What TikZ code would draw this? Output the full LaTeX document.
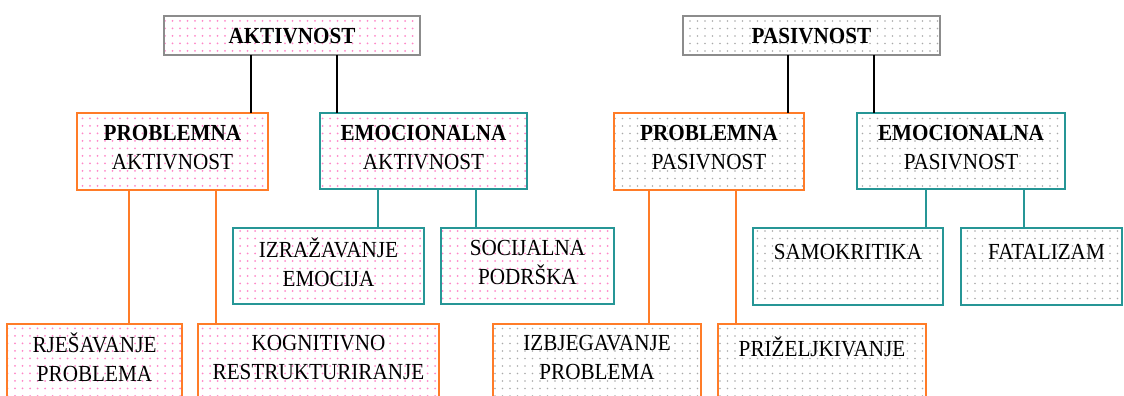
\documentclass[tikz,border=0pt]{standalone}
\usepackage{fontspec}
\setmainfont{Liberation Serif}[FakeStretch=0.92]
\usetikzlibrary{patterns.meta}
\definecolor{boxorange}{RGB}{255,124,40}
\definecolor{boxteal}{RGB}{38,150,150}
\definecolor{boxgray}{RGB}{140,140,140}
\definecolor{dotpink}{RGB}{255,135,200}
\definecolor{dotgray}{RGB}{170,170,170}
\tikzset{
  bx/.style={rectangle, inner sep=0pt, outer sep=0pt, line width=1.4pt, anchor=north west},
  pinkdots/.style={pattern={Dots[distance=7.5pt,radius=1pt]}, pattern color=dotpink},
  graydots/.style={pattern={Dots[distance=7.5pt,radius=0.95pt]}, pattern color=dotgray},
  obox/.style={bx, draw=boxorange},
  tbox/.style={bx, draw=boxteal},
  gbox/.style={bx, draw=boxgray},
  lbl/.style={align=center, inner sep=0pt, font=\fontsize{23}{29}\selectfont},
  blink/.style={draw=black, line width=1.1pt},
  olink/.style={draw=boxorange, line width=1.3pt},
  tlink/.style={draw=boxteal, line width=1.3pt}
}
\begin{document}
\begin{tikzpicture}[x=1pt,y=-1pt]
\useasboundingbox (0,0) rectangle (1124,396);
\clip (0,0) rectangle (1124,396);
% top level
\node[gbox,pinkdots,minimum width=256pt,minimum height=39pt] (akt) at (164,16) {};
\node[lbl] (aktt) at (292,36) {\textbf{AKTIVNOST}};
\node[gbox,graydots,minimum width=257pt,minimum height=39pt] (pas) at (683,16) {};
\node[lbl] (past) at (811.5,36) {\textbf{PASIVNOST}};
% second level
\node[obox,pinkdots,minimum width=191pt,minimum height=77pt] (pa) at (77,113) {};
\node[lbl] (pat) at (172.5,147.5) {\textbf{PROBLEMNA}\\AKTIVNOST};
\node[tbox,pinkdots,minimum width=207pt,minimum height=76pt] (ea) at (320,113) {};
\node[lbl] (eat) at (423.5,147.5) {\textbf{EMOCIONALNA}\\AKTIVNOST};
\node[obox,graydots,minimum width=190pt,minimum height=77pt] (pp) at (614,113) {};
\node[lbl] (ppt) at (709,147.5) {\textbf{PROBLEMNA}\\PASIVNOST};
\node[tbox,graydots,minimum width=208pt,minimum height=76pt] (ep) at (857,113) {};
\node[lbl] (ept) at (961,147.5) {\textbf{EMOCIONALNA}\\PASIVNOST};
% third level
\node[tbox,pinkdots,minimum width=191pt,minimum height=76pt] (ie) at (233,228) {};
\node[lbl] (iet) at (328.5,262) {IZRAŽAVANJE\\EMOCIJA};
\node[tbox,pinkdots,minimum width=173pt,minimum height=76pt] (sp) at (441,228) {};
\node[lbl] (spt) at (527.5,262) {SOCIJALNA\\PODRŠKA};
\node[tbox,graydots,minimum width=190pt,minimum height=77pt] (sk) at (753,228) {};
\node[lbl] (skt) at (848,252) {SAMOKRITIKA};
\node[tbox,graydots,minimum width=161pt,minimum height=77pt] (fa) at (961,228) {};
\node[lbl] (fat) at (1046.5,252) {FATALIZAM};
% fourth level
\node[obox,pinkdots,minimum width=175pt,minimum height=90pt] (rp) at (7,324) {};
\node[lbl] (rpt) at (94.5,357.5) {RJEŠAVANJE\\PROBLEMA};
\node[obox,pinkdots,minimum width=241pt,minimum height=90pt] (kr) at (198,324) {};
\node[lbl] (krt) at (318.5,357.5) {KOGNITIVNO\\RESTRUKTURIRANJE};
\node[obox,graydots,minimum width=208pt,minimum height=90pt] (ip) at (493,324) {};
\node[lbl] (ipt) at (597,357.5) {IZBJEGAVANJE\\PROBLEMA};
\node[obox,graydots,minimum width=208pt,minimum height=90pt] (pz) at (718,324) {};
\node[lbl] (pzt) at (822,347) {PRIŽELJKIVANJE};
% connector columns
\coordinate (c1) at (251,0);
\coordinate (c2) at (337,0);
\coordinate (c3) at (788,0);
\coordinate (c4) at (874,0);
\coordinate (c5) at (129,0);
\coordinate (c6) at (216,0);
\coordinate (c7) at (378,0);
\coordinate (c8) at (476,0);
\coordinate (c9) at (649,0);
\coordinate (c10) at (736,0);
\coordinate (c11) at (926,0);
\coordinate (c12) at (1024,0);
% connectors
\draw[blink] (akt.south -| c1) -- (pa.north -| c1);
\draw[blink] (akt.south -| c2) -- (ea.north -| c2);
\draw[blink] (pas.south -| c3) -- (pp.north -| c3);
\draw[blink] (pas.south -| c4) -- (ep.north -| c4);
\draw[olink] (pa.south -| c5) -- (rp.north -| c5);
\draw[olink] (pa.south -| c6) -- (kr.north -| c6);
\draw[tlink] (ea.south -| c7) -- (ie.north -| c7);
\draw[tlink] (ea.south -| c8) -- (sp.north -| c8);
\draw[olink] (pp.south -| c9) -- (ip.north -| c9);
\draw[olink] (pp.south -| c10) -- (pz.north -| c10);
\draw[tlink] (ep.south -| c11) -- (sk.north -| c11);
\draw[tlink] (ep.south -| c12) -- (fa.north -| c12);
\end{tikzpicture}
\end{document}
